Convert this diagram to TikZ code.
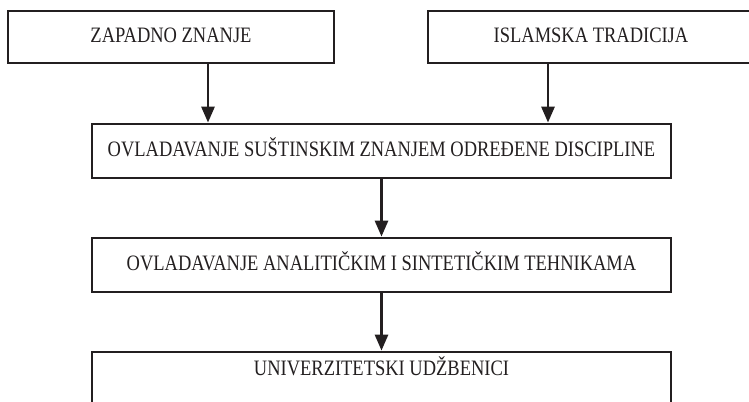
\documentclass[tikz,border=0pt]{standalone}
\usepackage{fontspec}
\setmainfont[FakeStretch=0.84]{Liberation Serif}
\usetikzlibrary{arrows.meta}
\definecolor{ink}{RGB}{35,31,32}
\tikzset{
  box/.style={draw=ink, line width=2.8bp, rectangle, inner sep=0pt,
    text=ink, font=\fontsize{22bp}{25bp}\selectfont,
    text height=14.5bp, text depth=4bp},
  arr/.style={draw=ink, line width=2.8bp,
    -{Triangle[length=16bp,width=13bp]}},
}
\begin{document}
\begin{tikzpicture}[x=1bp,y=-1bp]
  \useasboundingbox (0,0) rectangle (749,401);
  \clip (0,0) rectangle (749,401);
  % source boxes
  \node[box, minimum width=326bp, minimum height=52bp] (zap) at (171,37) {ZAPADNO ZNANJE};
  \node[box, minimum width=326bp, minimum height=52bp] (isl) at (591,37) {ISLAMSKA TRADICIJA};
  % chain of stages
  \node[box, minimum width=579bp, minimum height=54bp] (sus) at (381.5,151) {OVLADAVANJE SUŠTINSKIM ZNANJEM ODREĐENE DISCIPLINE};
  \node[box, minimum width=579bp, minimum height=54bp] (ana) at (381.5,265) {OVLADAVANJE ANALITIČKIM I SINTETIČKIM TEHNIKAMA};
  \node[box, minimum width=579bp, minimum height=54bp, text depth=21bp] (udz) at (381.5,379) {UNIVERZITETSKI UDŽBENICI};
  % connectors
  \draw[arr] ([xshift=37bp]zap.south) -- ([xshift=37bp]zap.south |- sus.north);
  \draw[arr] ([xshift=-43bp]isl.south) -- ([xshift=-43bp]isl.south |- sus.north);
  \draw[arr] (sus.south) -- (ana.north);
  \draw[arr] (ana.south) -- (udz.north);
\end{tikzpicture}
\end{document}
